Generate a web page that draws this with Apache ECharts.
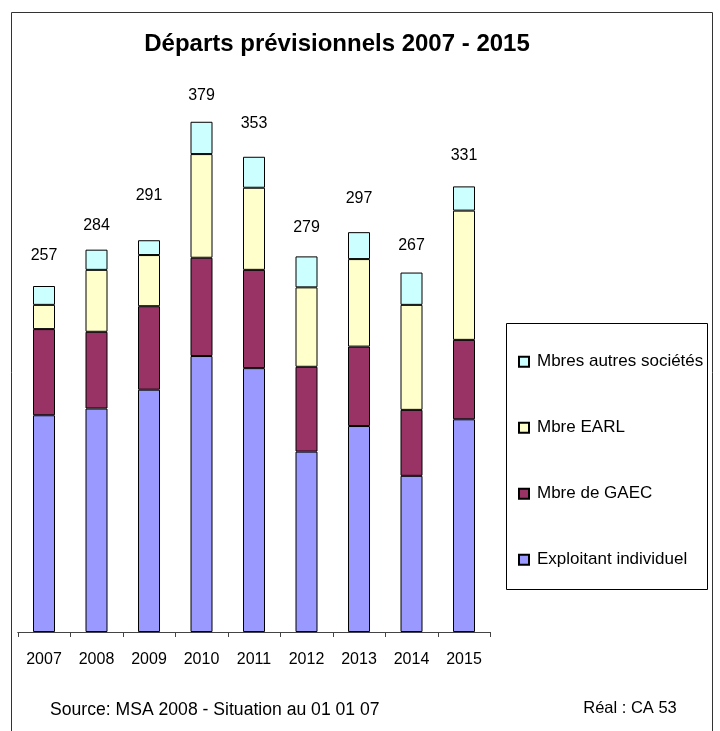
<!DOCTYPE html>
<html>
<head>
<meta charset="utf-8">
<script src="https://cdn.jsdelivr.net/npm/echarts@6/dist/echarts.min.js"></script>
<style>
  html, body { margin: 0; padding: 0; background: #fff; }
</style>
</head>
<body>
<div id="chart" style="width: 720px; height: 731px"></div>
<script>
// données
const years = ["2007", "2008", "2009", "2010", "2011", "2012", "2013", "2014", "2015"];
const exploitant = [161, 166, 180, 205, 196, 134, 153, 116, 158];
const gaec = [64, 57, 62, 73, 73, 63, 59, 49, 59];
const earl = [18, 46, 38, 77, 61, 59, 65, 78, 96];
const autres = [14, 15, 11, 24, 23, 23, 20, 24, 18];
const totals = [257, 284, 291, 379, 353, 279, 297, 267, 331];

const font = "Liberation Sans, Arial, sans-serif";

const init = () => {
  const myChart = echarts.init(document.getElementById("chart"));

  // distance des étiquettes au-dessus des barres (placement manuel dans l'original)
  const labelDist = [22.6, 16.5, 36.3, 17.7, 24.8, 20.9, 25.8, 19.2, 23];

  const barStyle = color => ({
    color: color,
    borderColor: "#000",
    borderWidth: 1
  });

  const option = {
    animation: false,
    backgroundColor: "#fff",
    grid: {
      left: 17.75,
      right: 229.75,
      top: 93.5,
      bottom: 99
    },
    legend: {
      orient: "vertical",
      left: 513,
      top: 346.7,
      itemWidth: 10,
      itemHeight: 10,
      itemGap: 46,
      icon: "rect",
      selectedMode: false,
      data: ["Mbres autres sociétés", "Mbre EARL", "Mbre de GAEC", "Exploitant individuel"],
      textStyle: {
        fontFamily: font,
        fontSize: 17,
        lineHeight: 20,
        color: "#000",
        padding: [0, 0, 0, 3]
      }
    },
    xAxis: {
      type: "category",
      data: years,
      axisLine: { lineStyle: { color: "#444", width: 1 } },
      axisTick: { show: true, length: 5, lineStyle: { color: "#444" } },
      axisLabel: {
        fontFamily: font,
        fontSize: 16,
        lineHeight: 16,
        color: "#000",
        margin: 19.5
      }
    },
    yAxis: {
      type: "value",
      min: 0,
      max: 400,
      show: false,
      splitLine: { show: false }
    },
    series: [
      {
        name: "Exploitant individuel",
        type: "bar",
        stack: "total",
        barWidth: 22,
        itemStyle: barStyle("#9999FF"),
        data: exploitant
      },
      {
        name: "Mbre de GAEC",
        type: "bar",
        stack: "total",
        itemStyle: barStyle("#993366"),
        data: gaec
      },
      {
        name: "Mbre EARL",
        type: "bar",
        stack: "total",
        itemStyle: barStyle("#FFFFCC"),
        data: earl
      },
      {
        name: "Mbres autres sociétés",
        type: "bar",
        stack: "total",
        itemStyle: barStyle("#CCFFFF"),
        data: autres.map((v, i) => ({
          value: v,
          label: {
            show: true,
            position: "top",
            distance: labelDist[i],
            formatter: () => String(totals[i])
          }
        })),
        label: {
          fontFamily: font,
          fontSize: 16,
          lineHeight: 16,
          color: "#000"
        }
      }
    ],
    graphic: [
      {
        type: "rect",
        silent: true,
        shape: { x: 11.5, y: 12.5, width: 701, height: 730 },
        style: { fill: "none", stroke: "#333", lineWidth: 1 }
      },
      {
        type: "rect",
        silent: true,
        shape: { x: 506.5, y: 323.5, width: 201, height: 266 },
        style: { fill: "none", stroke: "#000", lineWidth: 1 }
      },
      {
        type: "text",
        x: 337,
        y: 44,
        style: {
          text: "Départs prévisionnels 2007 - 2015",
          font: "bold 24px " + font,
          fill: "#000",
          textAlign: "center",
          textVerticalAlign: "middle"
        }
      },
      {
        type: "text",
        x: 50,
        y: 710,
        style: {
          text: "Source: MSA 2008 - Situation au 01 01 07",
          font: "17.6px " + font,
          fill: "#000",
          textAlign: "left",
          textVerticalAlign: "middle"
        }
      },
      {
        type: "text",
        x: 630,
        y: 708,
        style: {
          text: "Réal : CA 53",
          font: "16.5px " + font,
          fill: "#000",
          textAlign: "center",
          textVerticalAlign: "middle"
        }
      }
    ]
  };

  myChart.setOption(option);
};

init();
</script>
</body>
</html>
